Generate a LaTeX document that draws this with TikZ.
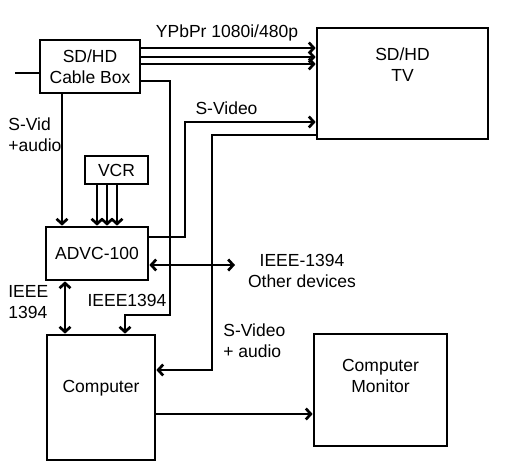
\documentclass[tikz,border=0pt]{standalone}
\usepackage{fontspec}
\setmainfont{Liberation Sans}
\usetikzlibrary{arrows.meta,positioning}

\begin{document}
\begin{tikzpicture}[x=1pt, y=-1pt, ->, >={Straight Barb[length=5pt,width=11pt]}, line width=2.7pt,
    font=\fontsize{17.5}{21}\selectfont, align=center]

    \tikzstyle{box}=[draw=black, line width=2.7pt, fill=white, inner sep=0pt]
    \tikzstyle{txt}=[inner sep=2pt]

    \useasboundingbox (0,0) rectangle (518,472);

    % devices
    \node[box, minimum width=100pt, minimum height=53pt] (cable) at (90,66.5)  {SD/HD\\Cable Box};
    \node[box, minimum width=171pt, minimum height=111pt] (tv)   at (402.5,83.5) {};
    \node[txt] (tvtext) [below=18pt of tv.north] {SD/HD\\TV};
    \node[box, minimum width=63pt, minimum height=28pt] (vcr)    at (116.5,170) {VCR};
    \node[box, minimum width=102pt, minimum height=53pt] (advc)  at (97,253.5) {ADVC-100};
    \node[box, minimum width=108pt, minimum height=125pt] (comp) at (101,397.5) {};
    \node[txt] (comptext) [below=43pt of comp.north] {Computer};
    \node[box, minimum width=133pt, minimum height=112pt] (mon)  at (380.5,390) {};
    \node[txt] (montext) [below=23pt of mon.north] {Computer\\Monitor};

    % corners of the cable runs
    \coordinate (in)  at (15,73);
    \coordinate (c1)  at (170,315);
    \coordinate (sv)  at (185,122);
    \coordinate (sa)  at (212,370);
    \coordinate (od)  at (235,265);

    % connections
    \draw[-] (in) -- (in -| cable.west);
    \foreach \dy in {18.5,9.5,2.5}
        \draw ([yshift=\dy pt]cable.east) -- ([yshift=\dy pt]cable.east -| tv.west);
    \draw ([yshift=-14.5pt]cable.east) -| (c1) -| ([xshift=24pt]comp.north);
    \draw ([xshift=-28pt]cable.south) -- ([xshift=-28pt]cable.south |- advc.north);
    \foreach \dx in {-19.5,-9.5,0.5}
        \draw ([xshift=\dx pt]vcr.south) -- ([xshift=\dx pt]vcr.south |- advc.north);
    \draw ([yshift=16.5pt]advc.east) -| (sv) -- (sv -| tv.west);
    \draw ([yshift=-51.5pt]tv.west) -| (sa) -- (sa -| comp.east);
    \draw[<->] ([yshift=-11.5pt]advc.east) -- (od);
    \draw[<->] ([xshift=-32pt]advc.south) -- ([xshift=-32pt]advc.south |- comp.north);
    \draw ([yshift=-16.5pt]comp.east) -- ([yshift=-16.5pt]comp.east -| mon.west);

    % labels
    \node[txt] (lypbpr) at (227,33)  {YPbPr 1080i/480p};
    \node[txt] (lsvid)  at (226.5,108) {S-Video};
    \node[txt, anchor=west, align=left] (lsvida) at (5,135) {S-Vid\\+audio};
    \node[txt] (lother) at (302,270.5) {IEEE-1394\\Other devices};
    \node[txt, anchor=west, align=left] (lieee) at (5,302.5) {IEEE\\1394};
    \node[txt] (lieeeb) at (127,300) {IEEE1394};
    \node[txt, anchor=west, align=left] (lsva) at (220,341) {S-Video\\+ audio};
\end{tikzpicture}
\end{document}
